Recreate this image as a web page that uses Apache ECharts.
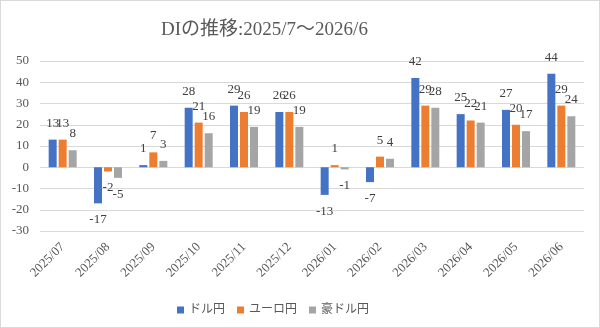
<!DOCTYPE html>
<html>
<head>
<meta charset="utf-8">
<script src="https://cdn.jsdelivr.net/npm/echarts@6/dist/echarts.min.js"></script>
<style>
  html, body { margin: 0; padding: 0; background: #fff; }
  #chart { width: 598px; height: 326px; border: 1px solid #d9d9d9; }
</style>
</head>
<body>
<div id="chart"></div>
<script>
// 月
var months = ['2025/07', '2025/08', '2025/09', '2025/10', '2025/11', '2025/12',
  '2026/01', '2026/02', '2026/03', '2026/04', '2026/05', '2026/06'];
// DI
var usdJpy = [13, -17, 1, 28, 29, 26, -13, -7, 42, 25, 27, 44];
var eurJpy = [13, -2, 7, 21, 26, 26, 1, 5, 29, 22, 20, 29];
var audJpy = [8, -5, 3, 16, 19, 19, -1, 4, 28, 21, 17, 24];

var serif = '"Liberation Serif", "DejaVu Serif", "Noto Sans CJK JP", serif';
var textColor = '#595959';

// 正の値は上、負の値は下にラベル
function withLabels(arr) {
  return arr.map(function (v) {
    return { value: v, label: { position: v < 0 ? 'bottom' : 'top' } };
  });
}

function makeSeries(name, arr, color) {
  return {
    name: name,
    type: 'bar',
    barWidth: 8,
    barGap: '25%',
    itemStyle: { color: color },
    label: {
      show: true,
      distance: 10,
      color: '#404040',
      fontFamily: serif,
      fontSize: 13
    },
    data: withLabels(arr)
  };
}

var chart = echarts.init(document.getElementById('chart'));
chart.setOption({
  animation: false,
  title: {
    text: 'DIの推移:2025/7～2026/6',
    left: 155,
    top: 15,
    textStyle: { fontFamily: serif, fontSize: 19, fontWeight: 'normal', color: textColor }
  },
  grid: { left: 39, right: 15, top: 60, bottom: 96 },
  legend: {
    left: 171,
    top: 298,
    itemWidth: 7,
    itemHeight: 7,
    itemGap: 12,
    icon: 'rect',
    textStyle: { fontFamily: serif, fontSize: 12, color: textColor },
    data: ['ドル円', 'ユーロ円', '豪ドル円']
  },
  xAxis: {
    type: 'category',
    data: months,
    axisLine: { show: false, onZero: false },
    axisTick: { show: false },
    axisLabel: {
      rotate: 45,
      margin: 14,
      interval: 0,
      color: textColor,
      fontFamily: serif,
      fontSize: 13
    }
  },
  yAxis: {
    type: 'value',
    min: -30,
    max: 50,
    interval: 10,
    axisLine: { show: false },
    axisTick: { show: false },
    axisLabel: { color: textColor, fontFamily: serif, fontSize: 13, margin: 11 },
    splitLine: { lineStyle: { color: '#d9d9d9', width: 1 } }
  },
  series: [
    makeSeries('ドル円', usdJpy, '#4472c4'),
    makeSeries('ユーロ円', eurJpy, '#ed7d31'),
    makeSeries('豪ドル円', audJpy, '#a5a5a5')
  ]
});
</script>
</body>
</html>
